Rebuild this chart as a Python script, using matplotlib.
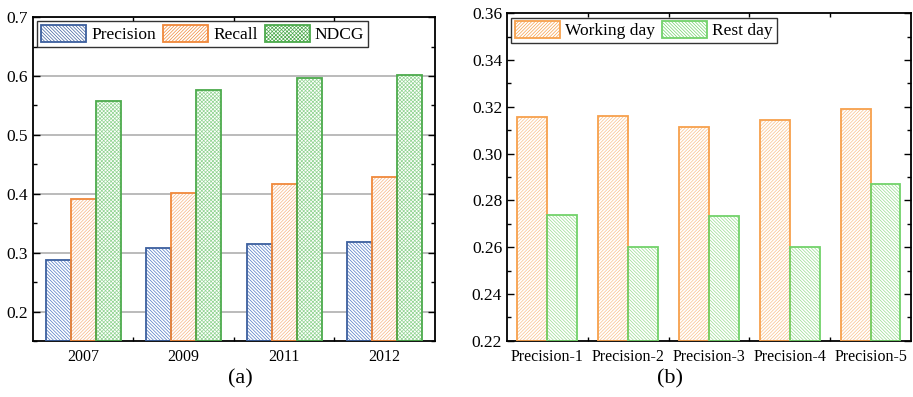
import numpy as np
import matplotlib.pyplot as plt
from matplotlib.ticker import MultipleLocator, FixedLocator

plt.rcParams['font.family'] = ['Liberation Serif', 'DejaVu Serif']
plt.rcParams['hatch.linewidth'] = 0.5

# (a) yearly results
years = ['2007', '2009', '2011', '2012']
precision = [0.288, 0.308, 0.314, 0.318]
recall = [0.391, 0.402, 0.417, 0.428]
ndcg = [0.557, 0.577, 0.596, 0.602]

# (b) working day vs rest day
prec_labels = ['Precision-1', 'Precision-2', 'Precision-3', 'Precision-4', 'Precision-5']
working_day = [0.3156, 0.3159, 0.3115, 0.3144, 0.3191]
rest_day = [0.2736, 0.2600, 0.2732, 0.2601, 0.2871]


def hatched_bar(ax, x, h, w, edge, hatch_col, hatch, label, bottom):
    # hatch drawn in a light colour, outline drawn on top in a stronger one
    ax.bar(x, np.array(h) - bottom, w, bottom=bottom, facecolor='white',
           edgecolor=hatch_col, hatch=hatch, linewidth=0, zorder=2)
    ax.bar(x, np.array(h) - bottom, w, bottom=bottom, facecolor='none',
           edgecolor=edge, linewidth=1.3, zorder=3)
    return plt.Rectangle((0, 0), 1, 1, facecolor='white', edgecolor=edge,
                         hatch=hatch, linewidth=1.3, label=label)


def style_axes(ax, n):
    ax.tick_params(axis='both', which='both', direction='in', top=True, right=True,
                   labelsize=11.5, width=1.0)
    ax.tick_params(axis='both', which='major', length=5)
    ax.tick_params(axis='both', which='minor', length=3)
    ax.tick_params(axis='x', which='major', length=0, pad=6)
    ax.xaxis.set_minor_locator(FixedLocator(np.arange(n - 1) + 0.5))
    for s in ax.spines.values():
        s.set_linewidth(1.3)


fig = plt.figure(figsize=(9.13, 3.97), dpi=100)

# ---- (a)
ax1 = fig.add_axes([0.0361, 0.141, 0.4403, 0.816])
x = np.arange(len(years))
w = 0.25
base = 0.15
h1 = hatched_bar(ax1, x - w, precision, w, '#3c5f9e', '#4f78c4', '\\' * 10, 'Precision', base)
h2 = hatched_bar(ax1, x, recall, w, '#f0883a', '#f7b583', '/' * 10, 'Recall', base)
h3 = hatched_bar(ax1, x + w, ndcg, w, '#4caa4c', '#92d492', 'x' * 9, 'NDCG', base)
ax1.set_xlim(-0.5, 3.5)
ax1.set_ylim(base, 0.7)
ax1.set_xticks(x)
ax1.set_xticklabels(years)
ax1.yaxis.set_minor_locator(MultipleLocator(0.05))
ax1.set_yticks(np.arange(0.2, 0.71, 0.1))
ax1.set_yticklabels(['0.2', '0.3', '0.4', '0.5', '0.6', '0.7'])
ax1.grid(axis='y', color='#a8a8a8', linewidth=1.1, zorder=0)
ax1.set_axisbelow(True)
style_axes(ax1, len(years))
ax1.tick_params(axis='y', labelsize=12.5)
leg1 = ax1.legend(handles=[h1, h2, h3], loc='upper left', ncol=3, fontsize=12.5,
                  frameon=True, fancybox=False, edgecolor='black', handlelength=2.6,
                  handleheight=1.1, columnspacing=0.4, handletextpad=0.3,
                  borderpad=0.2, borderaxespad=0.25)
leg1.get_frame().set_linewidth(1.0)
fig.text(0.263, 0.045, '(a)', ha='center', va='center', fontsize=16)

# ---- (b)
ax2 = fig.add_axes([0.5553, 0.1418, 0.4425, 0.825])
x2 = np.arange(len(prec_labels))
w2 = 0.37
base2 = 0.22
g1 = hatched_bar(ax2, x2 - w2 / 2, working_day, w2, '#f7a04c', '#f9c08a', '/' * 10, 'Working day', base2)
g2 = hatched_bar(ax2, x2 + w2 / 2, rest_day, w2, '#72d26a', '#98dc90', '\\' * 10, 'Rest day', base2)
ax2.set_xlim(-0.5, 4.5)
ax2.set_ylim(base2, 0.36)
ax2.set_xticks(x2)
ax2.set_xticklabels(prec_labels)
ax2.yaxis.set_major_locator(MultipleLocator(0.02))
ax2.yaxis.set_minor_locator(MultipleLocator(0.01))
ax2.yaxis.set_major_formatter(plt.FormatStrFormatter('%.2f'))
style_axes(ax2, len(prec_labels))
ax2.tick_params(axis='y', labelsize=12.5)
leg2 = ax2.legend(handles=[g1, g2], loc='upper left', ncol=2, fontsize=12.5,
                  frameon=True, fancybox=False, edgecolor='black', handlelength=2.6,
                  handleheight=1.1, columnspacing=0.4, handletextpad=0.3,
                  borderpad=0.2, borderaxespad=0.25)
leg2.get_frame().set_linewidth(1.0)
fig.text(0.734, 0.045, '(b)', ha='center', va='center', fontsize=16)

fig.savefig('out.png', dpi=100)
